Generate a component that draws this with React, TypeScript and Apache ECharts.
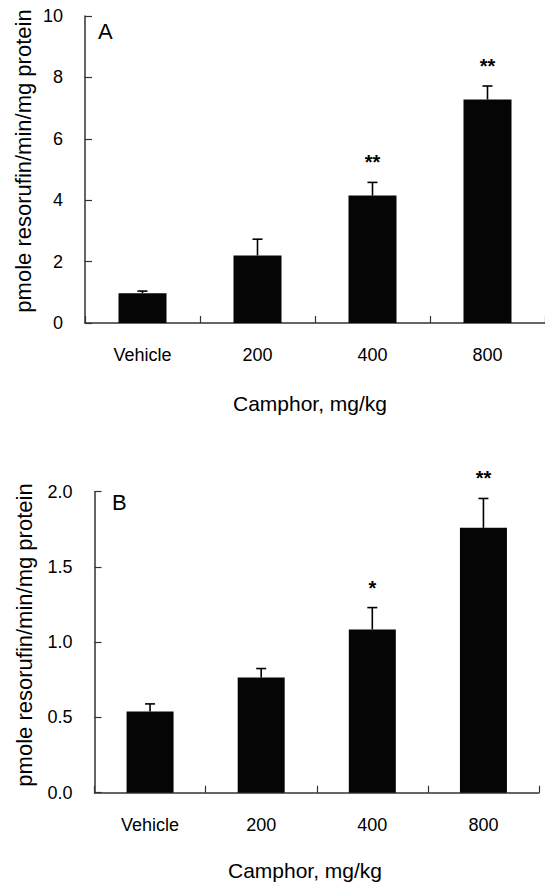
import React, { useEffect, useRef } from "react";
import * as echarts from "echarts";

const categories = ["Vehicle", "200", "400", "800"];

const meanA = [0.97, 2.2, 4.15, 7.28];
const errA = [0.07, 0.53, 0.43, 0.44];
const sigA = ["", "", "**", "**"];

const meanB = [0.54, 0.765, 1.085, 1.76];
const errB = [0.05, 0.06, 0.145, 0.195];
const sigB = ["", "", "*", "**"];

const yTitle = "pmole resorufin/min/mg protein";
const xTitle = "Camphor, mg/kg";

const FONT = "'Liberation Sans', Arial, Helvetica, sans-serif";

function errorSeries(gridIdx: number, means: number[], errs: number[], sigs: string[]) {
  return {
    type: "custom",
    xAxisIndex: gridIdx,
    yAxisIndex: gridIdx,
    z: 5,
    data: means.map((m, i) => [i, m, errs[i]]),
    renderItem: (params: any, api: any) => {
      const idx = api.value(0);
      const m = api.value(1);
      const e = api.value(2);
      const base = api.coord([idx, m]);
      const top = api.coord([idx, m + e]);
      const children: any[] = [
        {
          type: "line",
          shape: { x1: base[0], y1: base[1], x2: top[0], y2: top[1] },
          style: { stroke: "#000", lineWidth: 1.6 },
        },
        {
          type: "line",
          shape: { x1: top[0] - 5, y1: top[1], x2: top[0] + 5, y2: top[1] },
          style: { stroke: "#000", lineWidth: 1.6 },
        },
      ];
      const s = sigs[params.dataIndex];
      if (s) {
        children.push({
          type: "text",
          x: top[0],
          y: top[1] - 20,
          style: {
            text: s,
            fill: "#000",
            font: `bold 20px ${FONT}`,
            align: "center",
            verticalAlign: "middle",
          },
        });
      }
      return { type: "group", children };
    },
  };
}

export default function App() {
  const ref = useRef<HTMLDivElement>(null);
  useEffect(() => {
    if (!ref.current) return;
    const chart = echarts.init(ref.current, undefined, { renderer: "svg" });
    const axisLine = { show: true, lineStyle: { color: "#333", width: 1.5 } };
    const xAxisCommon = {
      type: "category",
      data: categories,
      boundaryGap: true,
      axisLine,
      axisTick: { show: true, inside: true, length: 7, alignWithLabel: false, lineStyle: { color: "#333", width: 1.2 } },
      axisLabel: { fontSize: 18, color: "#000", fontFamily: FONT, margin: 23 },
      splitLine: { show: false },
    };
    const yAxisCommon = {
      type: "value",
      min: 0,
      axisLine,
      axisTick: { show: true, inside: true, length: 7, lineStyle: { color: "#333", width: 1.2 } },
      splitLine: { show: false },
    };
    chart.setOption({
      animation: false,
      backgroundColor: "#fff",
      grid: [
        { left: 85, top: 16, width: 462, height: 307 },
        { left: 94.5, top: 491.7, width: 444.5, height: 301 },
      ],
      xAxis: [
        { ...xAxisCommon, gridIndex: 0 },
        { ...xAxisCommon, gridIndex: 1 },
      ],
      yAxis: [
        {
          ...yAxisCommon,
          gridIndex: 0,
          max: 10,
          interval: 2,
          axisLabel: { fontSize: 18, color: "#000", fontFamily: FONT, margin: 22 },
        },
        {
          ...yAxisCommon,
          gridIndex: 1,
          max: 2,
          interval: 0.5,
          axisLabel: {
            fontSize: 18,
            color: "#000",
            fontFamily: FONT,
            margin: 22,
            formatter: (v: number) => v.toFixed(1),
          },
        },
      ],
      series: [
        {
          type: "bar",
          xAxisIndex: 0,
          yAxisIndex: 0,
          data: meanA,
          barWidth: 48,
          itemStyle: { color: "#050505" },
        },
        {
          type: "bar",
          xAxisIndex: 1,
          yAxisIndex: 1,
          data: meanB,
          barWidth: 47,
          itemStyle: { color: "#050505" },
        },
        errorSeries(0, meanA, errA, sigA),
        errorSeries(1, meanB, errB, sigB),
      ],
      graphic: [
        {
          type: "text",
          x: 98,
          y: 31,
          style: { text: "A", font: `22px ${FONT}`, fill: "#000", verticalAlign: "middle" },
        },
        {
          type: "text",
          x: 112,
          y: 502,
          style: { text: "B", font: `22px ${FONT}`, fill: "#000", verticalAlign: "middle" },
        },
        {
          type: "text",
          x: 23,
          y: 161,
          rotation: Math.PI / 2,
          style: {
            text: yTitle,
            font: `22px ${FONT}`,
            fill: "#000",
            align: "center",
            verticalAlign: "middle",
          },
        },
        {
          type: "text",
          x: 24,
          y: 635,
          rotation: Math.PI / 2,
          style: {
            text: yTitle,
            font: `22px ${FONT}`,
            fill: "#000",
            align: "center",
            verticalAlign: "middle",
          },
        },
        {
          type: "text",
          x: 310,
          y: 403,
          style: { text: xTitle, font: `21px ${FONT}`, fill: "#000", align: "center", verticalAlign: "middle" },
        },
        {
          type: "text",
          x: 305,
          y: 870,
          style: { text: xTitle, font: `21px ${FONT}`, fill: "#000", align: "center", verticalAlign: "middle" },
        },
      ],
    });
    return () => chart.dispose();
  }, []);
  return (
    <div
      ref={ref}
      style={{ position: "absolute", left: 0, top: 0, width: 545, height: 886, background: "#fff" }}
    />
  );
}
